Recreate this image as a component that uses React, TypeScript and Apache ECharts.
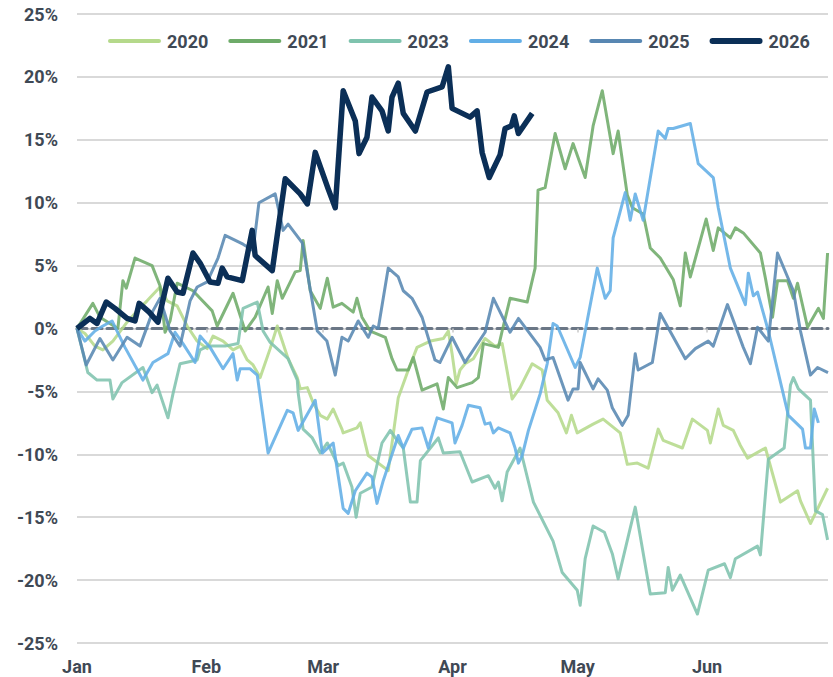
import React, { useEffect, useRef } from "react";
import * as echarts from "echarts";

// x = day of year (0 = Jan 1), y = year-to-date return in %
const monthLabels = ["Jan", "Feb", "Mar", "Apr", "May", "Jun"];
const monthStartDays = [0, 31, 59, 90, 120, 151];
const seriesNames = ["2020", "2021", "2023", "2024", "2025", "2026"];
const seriesColors = ["#b5d98b", "#6eab69", "#7fc3ae", "#62aee6", "#5887b2", "#0b2f57"];

const y2020 = [
  [0, 0], [1.9, -0.4], [4.3, -1.4], [6.2, -1.7], [8.6, -1.0], [12, 0.5], [14.4, 1.4], [16.8, 2.2], [19.9, 3.3],
  [21.6, 2.2], [24, 1.8], [26.4, 0.2], [28.8, -1.0], [31.2, -1.6], [32.6, -0.6], [35, -1.0], [37.4, -1.7],
  [39.1, -1.4], [40.8, -2.5], [42.2, -2.9], [43.9, -3.9], [46.3, -1.6], [48, 0.2], [50.6, -2.4], [52.8, -3.9],
  [53.5, -4.8], [55.2, -4.7], [56.6, -5.9], [58.3, -6.9], [60, -7.2], [61.4, -6.4], [63.5, -8.0], [63.8, -8.3],
  [67.1, -7.9], [67.9, -7.5], [69.8, -10.1], [74.6, -11.3], [77, -5.5], [79.4, -3.3], [81.5, -1.5], [84.7, -1.0],
  [87.8, -0.8], [89, -0.2], [89.9, -2.0], [90.9, -4.4], [91.8, -3.3], [93, -2.8], [95, -2.4], [97.8, -0.8],
  [100.2, -1.4], [101.9, -1.2], [104.3, -5.6], [106.2, -4.7], [109.1, -2.8], [111.5, -3.3], [112.7, -5.7],
  [115.3, -6.7], [117.3, -8.3], [118.5, -6.9], [119.9, -8.3], [123.7, -7.6], [126.1, -7.2], [130.2, -8.3],
  [131.9, -10.8], [134.3, -10.7], [136.9, -11.1], [139.3, -8.0], [140.5, -8.9], [145.1, -9.5], [147.5, -7.2],
  [151.1, -8.1], [151.8, -9.1], [153.7, -6.4], [154.9, -7.7], [157.3, -8.1], [159, -9.3], [160.7, -10.3],
  [165, -9.5], [168.6, -13.8], [172.7, -12.9], [173.4, -13.7], [175.8, -15.5], [179.9, -12.7],
];

const y2021 = [
  [0, 0], [3.8, 2.0], [5.5, 0.9], [9.8, 0], [11, 3.8], [11.8, 3.2], [13.9, 5.6], [18, 5.0], [19.9, 3.4],
  [21.1, -0.3], [22.3, 0.6], [24, 3.6], [27.8, 3.0], [29.5, 2.4], [32.4, 1.4], [33.6, 0.2], [37.4, 2.8],
  [40.3, -0.2], [42.7, 0.9], [45.8, 3.3], [46.8, 1.2], [48, 3.8], [49.2, 2.4], [52.3, 4.5], [53.5, 4.6],
  [54.2, 7.0], [55.9, 3.0], [58.3, 1.6], [60, 4.0], [61.4, 1.7], [63.5, 2.0], [66.2, 1.3], [67.1, 2.4],
  [68.3, 0.9], [70.3, -0.2], [73.9, -0.7], [75.5, -2.4], [76.7, -3.3], [79.4, -3.3], [80.6, -2.3], [82.7, -4.9],
  [86.3, -4.4], [87.8, -6.4], [89, -3.9], [91.1, -4.7], [94.7, -4.3], [96.2, -3.9], [97.4, -1.2], [101, -1.5],
  [101.9, -0.2], [103.8, 2.4], [107.9, 2.1], [109.8, 4.8], [110.5, 11.0], [112.2, 11.2], [114.6, 15.5],
  [117, 12.7], [118.9, 14.7], [121.8, 12.0], [123.7, 16.1], [125.9, 18.9], [128.5, 13.9], [129.7, 15.7],
  [131.9, 10.6], [133.1, 9.6], [135.7, 9.1], [137.4, 6.4], [139.8, 5.6], [142.9, 3.9], [144.6, 1.8], [145.8, 6.0],
  [147, 4.1], [150.8, 8.7], [152.5, 6.2], [153.7, 8.0], [156.6, 7.2], [157.8, 8.0], [159.7, 7.6], [163.8, 6.0],
  [165, 4.0], [166.7, 0.9], [167.9, 3.8], [170.3, 3.8], [171.7, 2.4], [172.7, 3.6], [175.1, 0.1], [177.7, 1.6],
  [178.9, 0.8], [179.9, 6.0],
];

const y2023 = [
  [0, 0], [2.6, -3.5], [4.8, -4.1], [7.9, -4.1], [8.6, -5.6], [10.8, -4.3], [15.8, -3.1], [18, -5.1], [19.2, -4.5],
  [21.8, -7.1], [23, -5.2], [24.7, -2.8], [28.8, -2.5], [29.5, -1.7], [31.4, -1.4], [35.5, -1.4], [38.6, -1.2],
  [39.8, 1.6], [43.2, 2.1], [44.6, -0.2], [46.3, -1.1], [50.6, -2.4], [51.6, -3.2], [52.8, -4.1], [53, -5.1],
  [54.2, -8.0], [56.4, -8.7], [58.3, -9.9], [60, -9.1], [62.6, -10.9], [63.8, -10.7], [65.9, -12.6], [66.9, -15.0],
  [67.9, -13.1], [70.7, -12.6], [73.1, -9.1], [75.1, -8.1], [76.3, -8.7], [78.2, -9.5], [79.9, -13.8], [81.5, -13.8],
  [82.3, -10.5], [86.6, -8.7], [87.8, -9.9], [91.8, -9.8], [94.7, -12.2], [98.6, -11.7], [100.2, -12.7], [101, -12.2],
  [101.9, -13.7], [103.1, -11.4], [106.2, -9.5], [109.4, -13.8], [114.1, -16.9], [116.3, -19.4], [119.9, -20.8],
  [120.6, -22.0], [121.8, -18.3], [123.7, -15.7], [126.4, -16.2], [128.3, -17.9], [129.7, -19.9], [133.8, -14.2],
  [137.4, -21.1], [141, -21.0], [141.7, -19.0], [142.7, -20.8], [144.6, -19.6], [148.7, -22.7], [151.3, -19.2],
  [155.2, -18.7], [156.6, -19.8], [157.8, -18.3], [163.1, -17.3], [163.8, -18.0], [165.7, -10.4], [169.5, -9.5],
  [171, -4.5], [171.7, -3.9], [172.9, -4.8], [175.8, -5.7], [177, -14.5], [178.7, -14.8], [179.9, -16.8],
];

const y2024 = [
  [0, 0], [1.9, -1.0], [4.3, -0.2], [6.2, 0.2], [8.4, 0.6], [11.5, -1.5], [15.8, -4.1], [18.2, -2.7], [21.8, -2.0],
  [23.5, -0.3], [25.4, -1.2], [28.3, -2.7], [29.5, -0.6], [31.9, -1.5], [35, -3.2], [37.4, -2.0], [38.4, -4.1],
  [39.1, -3.2], [41.5, -3.2], [43.2, -3.7], [45.8, -9.9], [50.4, -6.5], [51.8, -6.7], [53, -8.1], [57.1, -5.7],
  [58.8, -9.9], [61.4, -9.1], [63.8, -14.3], [65, -14.7], [66.7, -12.9], [69.5, -11.5], [70.7, -11.8], [71.9, -13.9],
  [73.4, -12.1], [77, -8.5], [78.2, -9.5], [80.3, -8.0], [82.7, -7.9], [84.2, -9.5], [86.3, -7.1], [89.9, -7.5],
  [90.6, -9.1], [92.3, -7.7], [93.8, -6.1], [96.6, -6.3], [97.8, -7.6], [99, -7.5], [99.8, -8.3], [101, -7.9],
  [103.8, -8.3], [105, -9.5], [105.8, -10.7], [106.7, -10.1], [108.2, -8.1], [111, -5.2], [112.7, -2.8],
  [114.1, 0.4], [115.1, 0.2], [119.4, -3.1], [120.6, -2.3], [124.7, 4.8], [126.6, 2.4], [127.8, 3.0], [128.5, 7.2],
  [131.4, 10.8], [132.6, 8.6], [133.8, 10.7], [135.7, 8.6], [139.3, 15.7], [141, 15.1], [141.7, 15.9], [142.9, 15.9],
  [147, 16.3], [148.9, 13.1], [152.5, 12.0], [153.7, 9.6], [156.6, 4.8], [160.2, 1.9], [160.9, 4.4], [162.1, 2.6],
  [163.1, 2.9], [165.7, -0.2], [170.5, -6.9], [173.9, -8.0], [174.6, -9.5], [175.8, -9.5], [176.7, -6.4], [177.7, -7.5],
];

const y2025 = [
  [0, 0], [2.2, -2.9], [5.5, -0.8], [8.6, -2.5], [12, -0.7], [15.1, -1.4], [18.2, 1.4], [19.9, 2.4], [22.3, -0.2],
  [24.7, -1.4], [27.1, 2.2], [28.8, 3.3], [31.2, 3.7], [33.8, 5.6], [35.5, 7.4], [39.8, 6.7], [42.2, 6.2],
  [43.6, 10.0], [47.5, 10.7], [49.4, 7.8], [50.6, 8.3], [54, 6.8], [57.6, -0.2], [59.9, -1.0], [61.9, -3.7],
  [63.5, -0.7], [65, -1.0], [67.4, 0.6], [69.8, -0.7], [71, 0.2], [72.2, 0], [74.6, 4.8], [77, 4.1], [78.2, 3.0],
  [80.3, 2.4], [82.7, 0.9], [85.8, -2.5], [87, -2.7], [89.9, -0.7], [93, -2.7], [97.8, -0.3], [99.8, 2.4],
  [103.8, -0.3], [105.8, 0.8], [111, -1.5], [112.2, -2.5], [114.1, -2.3], [117.7, -5.7], [118.9, -4.8],
  [120.1, -4.8], [120.6, -2.7], [123.7, -4.8], [124.9, -4.0], [127.1, -4.9], [128.3, -6.3], [130.7, -7.7],
  [132.1, -6.9], [133.8, -2.0], [134.5, -3.3], [137.9, -2.7], [139.8, 1.2], [145.8, -2.4], [148.2, -1.6],
  [151.3, -1.0], [152.5, -1.4], [155.9, 1.9], [159.7, -1.5], [161.4, -2.8], [163.1, 0.1], [165.7, -1.0],
  [167.9, 6.0], [171.7, 3.0], [173.4, -0.2], [175.8, -3.7], [177.5, -3.1], [180, -3.5],
];

const y2026 = [
  [0, 0], [3.1, 0.8], [4.8, 0.4], [7, 2.1], [9.1, 1.6], [12, 0.8], [13.9, 0.6], [14.9, 2.0], [17.3, 1.3],
  [19.4, 0.5], [21.8, 4.0], [24, 2.9], [25.4, 2.8], [27.8, 6.0], [29.5, 5.2], [31.9, 3.7], [33.8, 3.6],
  [34.8, 4.8], [36, 4.1], [39.6, 3.8], [42, 7.8], [42.7, 5.8], [46.8, 4.6], [49.9, 11.9], [53.5, 10.7],
  [55.2, 9.9], [57.1, 14.0], [60.2, 11.1], [61.9, 9.6], [63.8, 18.9], [66.7, 16.5], [67.6, 13.9], [69.5, 15.2],
  [70.7, 18.4], [73.1, 17.3], [74.6, 15.7], [75.5, 18.4], [77, 19.5], [78.2, 17.1], [81.1, 15.7], [83.9, 18.8],
  [87.5, 19.2], [89, 20.8], [89.9, 17.5], [94.2, 16.8], [95.9, 17.3], [97.1, 14.0], [98.8, 12.0], [101.4, 13.8],
  [102.6, 15.9], [104.1, 16.1], [104.8, 16.9], [105.8, 15.5], [109.1, 17.1],
];

const seriesData = [y2020, y2021, y2023, y2024, y2025, y2026];

const FONT = "Roboto, 'Noto Sans', sans-serif";
const LABEL_COLOR = "#3f4955";

export default function App() {
  const ref = useRef<HTMLDivElement>(null);
  useEffect(() => {
    if (!ref.current) return;
    const chart = echarts.init(ref.current, null, { renderer: "svg" });
    const xMin = 0;
    const xMax = 180;
    chart.setOption({
      animation: false,
      backgroundColor: "#ffffff",
      grid: { left: 77, right: 5, top: 14, bottom: 34, containLabel: false },
      legend: {
        top: 27,
        left: 103,
        itemWidth: 53,
        itemHeight: 6,
        itemGap: 20,
        textStyle: { fontFamily: FONT, fontSize: 18, fontWeight: "bold", color: LABEL_COLOR, padding: [0, 0, 0, 1] },
        data: seriesNames.map((n, i) => ({
          name: n,
          icon: i === 5 ? "path://M3,0H50A3,3 0 0 1 50,6H3A3,3 0 0 1 3,0Z" : "path://M2,0H51A2,2 0 0 1 51,4H2A2,2 0 0 1 2,0Z",
        })),
      },
      xAxis: [
        {
          type: "value",
          min: xMin,
          max: xMax,
          position: "bottom",
          axisLine: { show: false, onZero: false },
          axisTick: { show: false },
          splitLine: { show: false },
          axisLabel: {
            customValues: monthStartDays,
            margin: 14,
            fontFamily: FONT,
            fontSize: 18,
            fontWeight: "bold",
            color: LABEL_COLOR,
            formatter: (v: number) => {
              const i = monthStartDays.indexOf(Math.round(v));
              return i >= 0 ? monthLabels[i] : "";
            },
          },
        },
        {
          type: "value",
          min: xMin,
          max: xMax,
          position: "bottom",
          axisLine: { show: true, onZero: true, lineStyle: { color: "#6b7786", width: 3, type: [10, 5] } },
          axisTick: { show: true, customValues: monthStartDays, length: 4, lineStyle: { color: "#c8c8c8", width: 1.5 } },
          axisLabel: { show: false },
          splitLine: { show: false },
        },
      ],
      yAxis: {
        type: "value",
        min: -25,
        max: 25,
        interval: 5,
        axisLine: { show: false },
        axisTick: { show: false },
        splitLine: { show: true, lineStyle: { color: "#d9d9d9", width: 2 } },
        axisLabel: {
          margin: 19,
          fontFamily: FONT,
          fontSize: 18,
          fontWeight: "bold",
          color: LABEL_COLOR,
          formatter: (v: number) => `${v}%`,
        },
      },
      series: seriesNames.map((n, i) => ({
        name: n,
        type: "line",
        xAxisIndex: 0,
        data: seriesData[i],
        showSymbol: false,
        symbol: "none",
        z: 2 + i,
        color: seriesColors[i],
        lineStyle: { color: seriesColors[i], width: i === 5 ? 5.5 : 3, opacity: i === 5 ? 1 : 0.88, join: "round" },
        emphasis: { disabled: true },
      })),
    });
    return () => chart.dispose();
  }, []);
  return <div ref={ref} style={{ width: 833, height: 677, position: "absolute", left: 0, top: 0 }} />;
}
